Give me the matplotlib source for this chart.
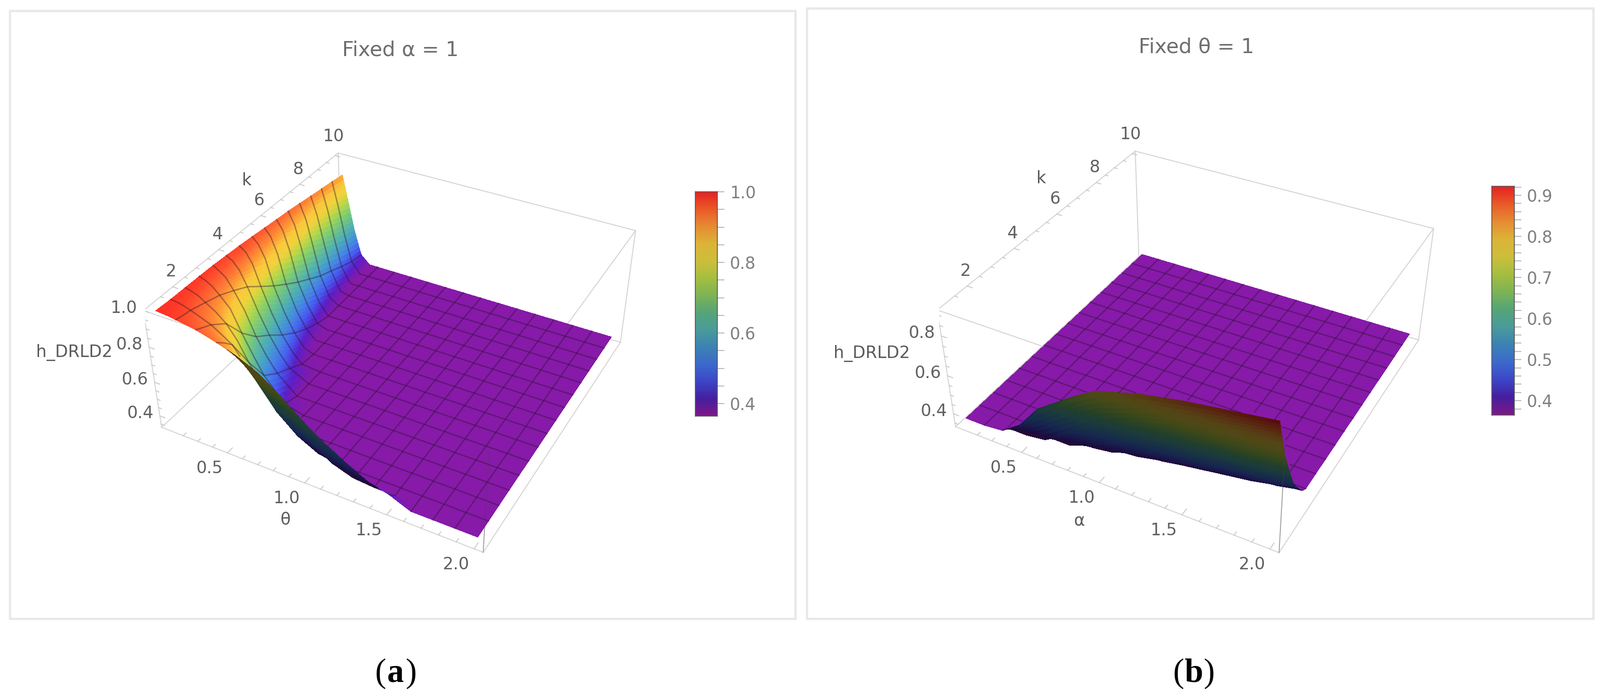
import numpy as np
import matplotlib
matplotlib.use("Agg")
import matplotlib.pyplot as plt
from matplotlib.colors import LinearSegmentedColormap
from matplotlib.patches import Rectangle
from mpl_toolkits.mplot3d import proj3d

W, H = 3194, 1394
plt.rcParams['font.family'] = 'DejaVu Sans'

# ---- data ----
theta_a = [0.1, 0.14, 0.18, 0.227, 0.29, 0.353, 0.417, 0.48, 0.607, 0.733, 0.86, 0.987, 1.113, 1.24, 1.367, 1.493, 1.62, 1.747, 1.873, 2.0]
k_a = [1, 1.3, 1.6, 2.2, 2.8, 3.4, 4, 4.6, 5.2, 5.8, 6.4, 7, 7.6, 8.2, 8.8, 9.4, 10]
h_a = [
 [.993,.99,.987,.98,.972,.963,.948,.932,.893,.84,.755,.66,.58,.51,.45,.42,.37,.37,.37,.37],
 [.991,.988,.983,.972,.958,.942,.92,.895,.80,.70,.60,.50,.42,.38,.37,.37,.37,.37,.37,.37],
 [.989,.985,.978,.965,.944,.922,.887,.85,.70,.55,.45,.39,.37,.37,.37,.37,.37,.37,.37,.37],
 [.988,.98,.968,.942,.908,.861,.785,.68,.50,.40,.37,.37,.37,.37,.37,.37,.37,.37,.37,.37],
 [.987,.975,.955,.917,.859,.74,.63,.53,.40,.37,.37,.37,.37,.37,.37,.37,.37,.37,.37,.37],
 [.985,.965,.94,.879,.782,.65,.55,.47,.37,.37,.37,.37,.37,.37,.37,.37,.37,.37,.37,.37],
 [.98,.96,.92,.837,.704,.59,.497,.427,.37,.37,.37,.37,.37,.37,.37,.37,.37,.37,.37,.37],
 [.975,.95,.895,.776,.634,.522,.438,.38,.37,.37,.37,.37,.37,.37,.37,.37,.37,.37,.37,.37],
 [.968,.935,.865,.716,.574,.467,.392,.37,.37,.37,.37,.37,.37,.37,.37,.37,.37,.37,.37,.37],
 [.96,.92,.83,.663,.52,.423,.37,.37,.37,.37,.37,.37,.37,.37,.37,.37,.37,.37,.37,.37],
 [.952,.90,.79,.613,.482,.39,.37,.37,.37,.37,.37,.37,.37,.37,.37,.37,.37,.37,.37,.37],
 [.945,.875,.745,.57,.44,.37,.37,.37,.37,.37,.37,.37,.37,.37,.37,.37,.37,.37,.37,.37],
 [.935,.85,.705,.527,.406,.37,.37,.37,.37,.37,.37,.37,.37,.37,.37,.37,.37,.37,.37,.37],
 [.925,.82,.665,.497,.385,.37,.37,.37,.37,.37,.37,.37,.37,.37,.37,.37,.37,.37,.37,.37],
 [.915,.79,.63,.464,.37,.37,.37,.37,.37,.37,.37,.37,.37,.37,.37,.37,.37,.37,.37,.37],
 [.905,.76,.595,.437,.37,.37,.37,.37,.37,.37,.37,.37,.37,.37,.37,.37,.37,.37,.37,.37],
 [.895,.73,.565,.42,.37,.37,.37,.37,.37,.37,.37,.37,.37,.37,.37,.37,.37,.37,.37,.37],
]
alpha_b = [0.1, 0.227, 0.353, 0.48, 0.607, 0.733, 0.86, 0.987, 1.113, 1.24, 1.367, 1.493, 1.62, 1.747, 1.873, 2.0]
k_b = [1, 1.2, 1.4, 1.6, 1.8, 2.0, 2.2, 2.4, 2.6, 2.8, 3.4, 4, 5.2, 7, 8.8, 10]
h_b = [
 [.37,.37,.38,.45,.57,.64,.71,.77,.80,.83,.85,.87,.885,.90,.915,.93],
 [.37,.37,.37,.37,.384,.451,.523,.586,.628,.669,.701,.725,.756,.778,.80,.824],
 [.37,.37,.37,.37,.37,.37,.407,.462,.512,.554,.591,.62,.648,.667,.692,.717],
 [.37,.37,.37,.37,.37,.37,.37,.386,.426,.462,.504,.525,.561,.582,.615,.644],
 [.37,.37,.37,.37,.37,.37,.37,.37,.379,.402,.432,.455,.488,.513,.539,.572],
 [.37,.37,.37,.37,.37,.37,.37,.37,.37,.37,.389,.405,.432,.455,.479,.504],
 [.37,.37,.37,.37,.37,.37,.37,.37,.37,.37,.37,.375,.391,.407,.43,.46],
 [.37,.37,.37,.37,.37,.37,.37,.37,.37,.37,.37,.37,.37,.386,.397,.42],
 [.37,.37,.37,.37,.37,.37,.37,.37,.37,.37,.37,.37,.37,.37,.375,.387],
 [.37]*16, [.37]*16, [.37]*16, [.37]*16, [.37]*16, [.37]*16, [.37]*16,
]
mesh_x = [0.227, 0.353, 0.48, 0.607, 0.733, 0.86, 0.987, 1.113, 1.24, 1.367, 1.493, 1.62, 1.747, 1.873]
mesh_k = [1.6, 2.2, 2.8, 3.4, 4, 4.6, 5.2, 5.8, 6.4, 7, 7.6, 8.2, 8.8, 9.4]

x_ticks = [0.5, 1.0, 1.5, 2.0]
x_minor = [0.2, 0.3, 0.4, 0.6, 0.7, 0.8, 0.9, 1.1, 1.2, 1.3, 1.4, 1.6, 1.7, 1.8, 1.9]
k_ticks = [2, 4, 6, 8, 10]
k_minor = [1.5, 2.5, 3, 3.5, 4.5, 5, 5.5, 6.5, 7, 7.5, 8.5, 9, 9.5]
z_ticks_a = [0.4, 0.6, 0.8, 1.0]
z_ticks_b = [0.4, 0.6, 0.8]
z_minor = [0.35, 0.45, 0.5, 0.55, 0.65, 0.7, 0.75, 0.85, 0.9, 0.95]

bar_ticks_a = [0.4, 0.6, 0.8, 1.0]
bar_ticks_b = [0.4, 0.5, 0.6, 0.7, 0.8, 0.9]

# colours of the legend bar, bottom to top, and of the lit surface
bar_colors = ['#7d1987', '#461ea0', '#3c46c8', '#3c69cd', '#3c82b4', '#4b9b9b', '#55a578',
              '#7db455', '#a5be41', '#cdbe3c', '#dcb437', '#e68c32', '#eb5a28', '#e62323']
surf_colors = ['#8c19a5', '#5a1ec8', '#465af0', '#4682e6', '#46a0c8', '#55b4aa', '#6ec387',
               '#8cd264', '#bed746', '#f0d23c', '#fac83c', '#ff9637', '#ff6432', '#ff2823']
cm_bar = LinearSegmentedColormap.from_list('bar', bar_colors)
cm_surf = LinearSegmentedColormap.from_list('surf', surf_colors)

# camera of each panel: elevation, azimuth, focal length, box aspect, px per view unit, px origin
view_a = dict(elev=36.15, azim=-61.63, f=0.4417, aspect=(np.exp(0.9075), np.exp(0.9017), 1.0),
              s=5383.6, ox=801.64, oy=654.48)
view_b = dict(elev=35.97, azim=-61.58, f=0.4377, aspect=(np.exp(0.9162), np.exp(0.9201), 1.0),
              s=5431.6, ox=2391.40, oy=651.53)


def px_axes(l, t, r, b, **kw):
    return fig.add_axes([l / W, 1 - b / H, (r - l) / W, (b - t) / H], **kw)


def px_text(x, y, s, **kw):
    return fig.text(x / W, 1 - y / H, s, **kw)


fig = plt.figure(figsize=(W / 100, H / 100), dpi=100, facecolor='white')


def panel(lims, view, x_vals, k_vals, z_vals, zt):
    ax = fig.add_axes([0, 0, 0.5, 0.5], projection='3d', computed_zorder=False)
    ax.set_axis_off()
    ax.patch.set_alpha(0)
    ax.set_xlim(*lims[0]); ax.set_ylim(*lims[1]); ax.set_zlim(*lims[2])
    ax.set_box_aspect(view['aspect'])
    ax.set_proj_type('persp', focal_length=view['f'])
    ax.view_init(elev=view['elev'], azim=view['azim'])
    s = view['s']
    x0, x1 = ax.viewLim.intervalx
    y0, y1 = ax.viewLim.intervaly
    S = s * (x1 - x0)
    L = view['ox'] + s * x0
    T = view['oy'] - s * y1
    ax.set_position([L / W, 1 - (T + S) / H, S / W, S / H])
    M = ax.get_proj()

    xmin, xmax = lims[0]; kmin, kmax = lims[1]; zmin, zmax = lims[2]
    box_col = '#d4d4d4'
    corners3 = [(xmin, kmin), (xmax, kmin), (xmax, kmax), (xmin, kmax)]
    for i in range(4):
        a = corners3[i]; b = corners3[(i + 1) % 4]
        ax.plot([a[0], b[0]], [a[1], b[1]], [zmin, zmin], color=box_col, lw=1.4, zorder=1)
        ax.plot([a[0], b[0]], [a[1], b[1]], [zmax, zmax], color=box_col, lw=1.4, zorder=1)
        ax.plot([a[0], a[0]], [a[1], a[1]], [zmin, zmax], color=box_col, lw=1.4, zorder=1)

    # render grid: table cells cut into finer faces for smooth colour
    def grid(vals, n):
        vals = np.asarray(vals, float)
        g = [np.linspace(a, b, n, endpoint=False) for a, b in zip(vals[:-1], vals[1:])]
        return np.r_[np.concatenate(g), vals[-1]]
    xr = grid(x_vals, 6)
    kr = grid(k_vals, 6)
    tbl = np.asarray(z_vals, float)
    t1 = np.array([np.interp(xr, x_vals, row) for row in tbl])
    Zr = np.array([np.interp(kr, k_vals, t1[:, j]) for j in range(t1.shape[1])]).T
    X, Y = np.meshgrid(xr, kr)
    u, v, _ = proj3d.proj_transform(X.ravel(), Y.ravel(), Zr.ravel(), M)
    u = u.reshape(X.shape); v = v.reshape(X.shape)
    area = ((u[1:, 1:] - u[:-1, :-1]) * (v[1:, :-1] - v[:-1, 1:])
            - (v[1:, 1:] - v[:-1, :-1]) * (u[1:, :-1] - u[:-1, 1:]))
    top_sign = np.sign(area[-1, -1])
    zc = 0.25 * (Zr[1:, 1:] + Zr[:-1, :-1] + Zr[1:, :-1] + Zr[:-1, 1:])
    t = np.clip((zc - 0.365) / (zt - 0.365), 0, 1)
    C = cm_surf(t)
    under = np.sign(area) != top_sign
    C[under, :3] = cm_bar(t[under])[:, :3] * 0.38
    ax.plot_surface(X, Y, Zr, facecolors=C, rstride=1, cstride=1, shade=False,
                    antialiased=False, linewidth=0, zorder=2)

    # mesh lines, cut where the dark underside covers them
    iu, ju = np.nonzero(under)
    quads = []
    for i, j in zip(iu, ju):
        quads.append(np.array([[u[i, j], v[i, j]], [u[i, j + 1], v[i, j + 1]],
                               [u[i + 1, j + 1], v[i + 1, j + 1]], [u[i + 1, j], v[i + 1, j]]]))

    def hidden(px, py):
        h = np.zeros(len(px), bool)
        for q in quads:
            sel = (px >= q[:, 0].min()) & (px <= q[:, 0].max()) & (py >= q[:, 1].min()) & (py <= q[:, 1].max())
            if not sel.any():
                continue
            idx = np.nonzero(sel)[0]
            c = []
            for a in range(4):
                b = (a + 1) % 4
                c.append((q[b, 0] - q[a, 0]) * (py[idx] - q[a, 1]) - (q[b, 1] - q[a, 1]) * (px[idx] - q[a, 0]))
            c = np.array(c)
            inside = np.all(c >= 0, axis=0) | np.all(c <= 0, axis=0)
            h[idx[inside]] = True
        return h

    line_kw = dict(color='#2a122a', alpha=0.4, lw=1.9, zorder=3)
    for mx in mesh_x:
        zs = np.array([np.interp(mx, xr, Zr[i]) for i in range(len(kr))])
        xs = np.full(len(kr), mx)
        a, b, _ = proj3d.proj_transform(xs, kr, zs, M)
        h = hidden(a, b)
        ax.plot(xs, kr, np.where(h, np.nan, zs), **line_kw)
    for mk in mesh_k:
        zs = np.array([np.interp(mk, kr, Zr[:, j]) for j in range(len(xr))])
        ks = np.full(len(xr), mk)
        a, b, _ = proj3d.proj_transform(xr, ks, zs, M)
        h = hidden(a, b)
        ax.plot(xr, ks, np.where(h, np.nan, zs), **line_kw)

    # near vertical box edge seen over the surface
    ax.plot([xmax, xmax], [kmin, kmin], [zmin, zmax], color='#444444', alpha=0.4, lw=1.1, zorder=3)

    tick_col = '#c8c8c8'
    for tv in x_ticks + x_minor:
        ln = 0.22 if tv in x_ticks else 0.12
        ax.plot([tv, tv], [kmin, kmin + ln], [zmin, zmin], color=tick_col, lw=1.3, zorder=1)
    for tv in k_ticks + k_minor:
        ln = 0.035 if tv in k_ticks else 0.02
        ax.plot([xmin, xmin + ln], [tv, tv], [zmax, zmax], color=tick_col, lw=1.3, zorder=1)
    zts = z_ticks_a if zmax > 0.95 else z_ticks_b
    for tv in zts + [m for m in z_minor if zmin < m < zmax]:
        ln = 0.035 if tv in zts else 0.02
        ax.plot([xmin, xmin + ln], [kmin, kmin], [tv, tv], color=tick_col, lw=1.3, zorder=1)

    def label(xd, yd, zd, s, dx, dy):
        a, b, _ = proj3d.proj_transform(xd, yd, zd, M)
        ax.annotate(s, xy=(a, b), xytext=(dx, -dy), textcoords='offset pixels', ha='center',
                    va='center', fontsize=24, color='#5f5f5f', annotation_clip=False, zorder=5)
    for tv in x_ticks:
        label(tv, kmin, zmin, f'{tv:.1f}', -36, 31)
    for tv in k_ticks:
        label(xmin, tv, zmax, f'{tv}', -3, -38 if tv == 10 else -30)
    for tv in zts:
        label(xmin, kmin, tv, f'{tv:.1f}', -39, -5)


def colorbar(l, t, r, b, vmin, vmax, ticks, minor_step):
    cax = px_axes(l, t, r, b)
    grad = np.linspace(0, 1, 256)[:, None]
    cax.imshow(grad, origin='lower', aspect='auto', cmap=cm_bar, extent=[0, 1, vmin, vmax])
    cax.set_xticks([])
    cax.yaxis.tick_right()
    cax.set_yticks(ticks)
    cax.set_yticklabels([f'{v:.1f}' for v in ticks], fontsize=23.5, color='#808080')
    mn = np.arange(0.4 - minor_step, vmax, minor_step)
    cax.set_yticks(mn[(mn > vmin)], minor=True)
    cax.tick_params(axis='y', which='major', length=10, width=1.5, color='#bdbdbd', pad=8)
    cax.tick_params(axis='y', which='minor', length=10, width=1.5, color='#bdbdbd')
    for sp in cax.spines.values():
        sp.set_color('#555555'); sp.set_linewidth(1.2)
    cax.set_ylim(vmin, vmax)


def frame(l, t, r, b):
    fig.add_artist(Rectangle((l / W, 1 - b / H), (r - l) / W, (b - t) / H, transform=fig.transFigure,
                             fill=False, ec='#e8e8e8', lw=3.2))


def caption(xc, yc, letter):
    kw = dict(fontsize=48, family='Liberation Serif', color='black', ha='center', va='center')
    px_text(xc - 31, yc, '(', **kw)
    px_text(xc, yc, letter, fontweight='bold', **kw)
    px_text(xc + 31, yc, ')', **kw)


frame(20, 22, 1588, 1236)
frame(1611, 17, 3181, 1236)

lims_a = ((0.05, 2.05), (0.82, 10.18), (0.33, 1.0))
lims_b = ((0.05, 2.05), (0.82, 10.18), (0.33, 0.925))

panel(lims_a, view_a, theta_a, k_a, h_a, 1.0)
panel(lims_b, view_b, alpha_b, k_b, h_b, 0.922)

colorbar(1388, 383, 1432, 831, 0.365, 1.0, bar_ticks_a, 0.05)
colorbar(2978, 372, 3023, 829, 0.365, 0.922, bar_ticks_b, 0.02)

tcol = '#6e6e6e'
px_text(799, 101, 'Fixed α = 1', fontsize=29.5, color=tcol, ha='center', va='center')
px_text(2388, 94, 'Fixed θ = 1', fontsize=29.5, color=tcol, ha='center', va='center')
for x, y, s in [(493, 361, 'k'), (569, 1038, 'θ'), (148, 704, 'h_DRLD2'),
                (2079, 356, 'k'), (2154, 1041, 'α'), (1740, 706, 'h_DRLD2')]:
    px_text(x, y, s, fontsize=24, color='#5a5a5a', ha='center', va='center')
caption(790, 1345, 'a')
caption(2383, 1345, 'b')
fig.savefig('out.png', dpi=100)
